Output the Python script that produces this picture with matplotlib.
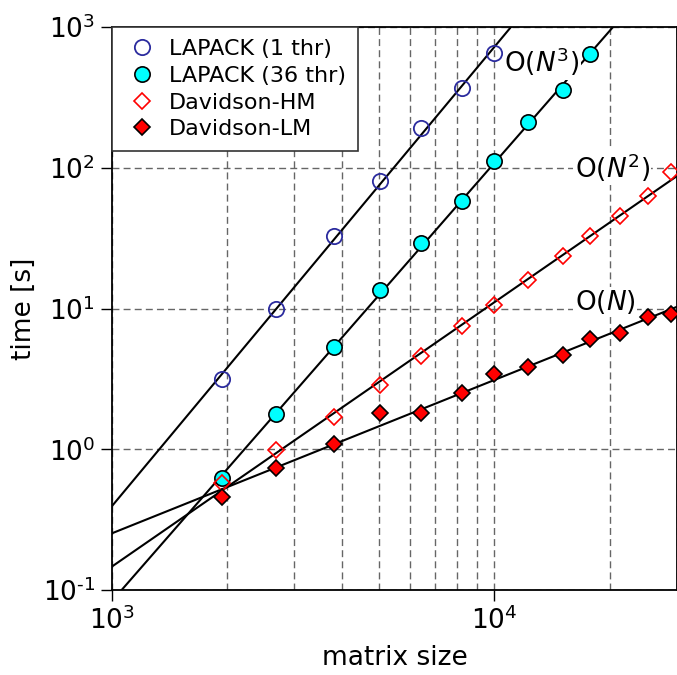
import numpy as np
import matplotlib
matplotlib.use('Agg')
import matplotlib.pyplot as plt
import matplotlib.ticker as mticker

plt.rcParams['font.family'] = ['DejaVu Sans']
plt.rcParams['mathtext.default'] = 'regular'

# matrix sizes
sizes = [1940, 2680, 3810, 5030, 6430, 8200, 10000, 12270, 15070, 17820, 21240, 25150, 29000]

# timings [s]
lapack_1thr = [3.16, 10.0, 32.5, 80.0, 191, 369, 653]
lapack_36thr = [0.625, 1.78, 5.32, 13.5, 29.2, 58, 112, 211, 357, 643]
davidson_hm = [0.575, 0.98, 1.69, 2.86, 4.6, 7.5, 10.6, 15.9, 23.6, 32.7, 45.4, 63, 93]
davidson_lm = [0.458, 0.736, 1.09, 1.81, 1.81, 2.51, 3.43, 3.84, 4.68, 6.07, 6.7, 8.7, 9.15]

scaling_labels = ['O($\\mathit{N}^3$)', 'O($\\mathit{N}^2$)', 'O($\\mathit{N}$)']
scaling_pos = [(10600, 564), (16200, 100), (16200, 11.1)]


def pow10_label(val, pos):
    # old-style label with a plain hyphen for negative exponents
    e = int(round(np.log10(val)))
    exp = '\\text{-}%d' % abs(e) if e < 0 else '%d' % e
    return '$10^{%s}$' % exp


fig = plt.figure(figsize=(6.77, 6.75), dpi=100)
ax = fig.add_axes([0.1654, 0.1259, 0.8346, 0.8341])

ax.set_xscale('log')
ax.set_yscale('log')
ax.set_xlim(1000, 30000)
ax.set_ylim(0.1, 1000)

# power-law fits (straight lines in log-log)
xfit = np.logspace(3, np.log10(30000), 50)
for times in [lapack_1thr, lapack_36thr, davidson_hm, davidson_lm]:
    n = np.array(sizes[:len(times)])
    p = np.polyfit(np.log10(n), np.log10(times), 1)
    ax.plot(xfit, 10 ** np.polyval(p, np.log10(xfit)), color='black', lw=1.5, zorder=3)

ax.plot(sizes[:len(lapack_1thr)], lapack_1thr, 'o', ms=11, mfc='none', mec='#2b2b9e',
        mew=1.3, label='LAPACK (1 thr)', zorder=4)
ax.plot(sizes[:len(lapack_36thr)], lapack_36thr, 'o', ms=11, mfc='cyan', mec='black',
        mew=1.2, label='LAPACK (36 thr)', zorder=4)
ax.plot(sizes, davidson_hm, 'D', ms=8.5, mfc='none', mec='red', mew=1.2,
        label='Davidson-HM', zorder=4)
ax.plot(sizes, davidson_lm, 'D', ms=8.5, mfc='red', mec='black', mew=1.2,
        label='Davidson-LM', zorder=4)

for txt, (tx, ty) in zip(scaling_labels, scaling_pos):
    ax.text(tx, ty, txt, fontsize=19, ha='left', va='center', zorder=5,
            bbox=dict(facecolor='white', edgecolor='none', pad=1))

ax.grid(True, which='both', axis='x', ls='--', color='#666666', lw=1.0, dashes=(5, 3))
ax.grid(True, which='major', axis='y', ls='--', color='#666666', lw=1.0, dashes=(5, 3))
ax.set_axisbelow(True)

ax.xaxis.set_major_formatter(mticker.FuncFormatter(pow10_label))
ax.yaxis.set_major_formatter(mticker.FuncFormatter(pow10_label))
ax.xaxis.set_minor_formatter(mticker.NullFormatter())
ax.yaxis.set_minor_locator(mticker.NullLocator())
ax.tick_params(which='major', direction='out', length=8, width=1, labelsize=19, pad=4)
ax.tick_params(which='minor', length=0)
for s in ax.spines.values():
    s.set_linewidth(1.3)

ax.set_xlabel('matrix size', fontsize=19, labelpad=7)
ax.set_ylabel('time [s]', fontsize=19)

leg = ax.legend(loc='upper left', borderaxespad=0, fontsize=16, numpoints=1,
                fancybox=False, edgecolor='#333333', framealpha=1,
                handlelength=1.6, handletextpad=0.4, labelspacing=0.3, borderpad=0.55)
leg.get_frame().set_linewidth(1.2)

fig.savefig('out.png', dpi=100)
